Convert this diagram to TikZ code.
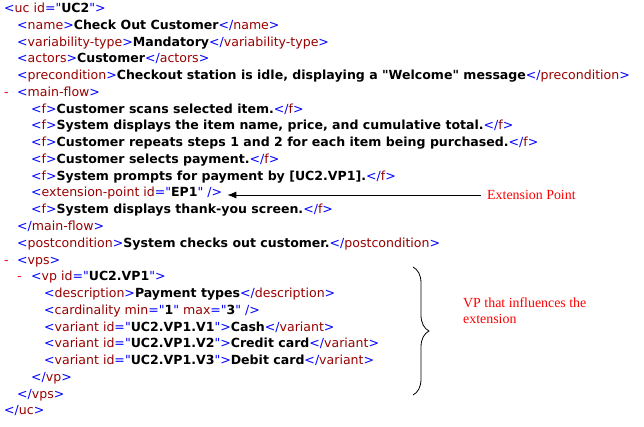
\documentclass[tikz,border=0pt]{standalone}
\usepackage{fontspec}
\newfontfamily\codefont{DejaVu Sans}
\newfontfamily\lblfont{Liberation Serif}
\usetikzlibrary{arrows.meta,decorations.pathreplacing}
\definecolor{xblue}{HTML}{0000FF}
\definecolor{xred}{HTML}{990000}
\definecolor{lblred}{HTML}{FF0000}
\newcommand\xo[1]{{\color{xblue}<}{\color{xred}#1}{\color{xblue}>}}
\newcommand\xs[1]{{\color{xblue}<}{\color{xred}#1}}
\newcommand\xg{{\color{xblue}>}}
\newcommand\xe{{\color{xblue}\ />}}
\newcommand\xc[1]{{\color{xblue}</}{\color{xred}#1}{\color{xblue}>}}
\newcommand\xa[2]{ {\color{xred}#1}{\color{xblue}="}\textbf{#2}{\color{xblue}"}}
\newcommand\xv[1]{\textbf{#1}}
\newcommand\xd{{\color{red}-}}
\begin{document}
\begin{tikzpicture}[x=1bp,y=-1bp,
  code/.style={anchor=base west,inner sep=0pt,font={\codefont\fontsize{12.55bp}{16bp}\selectfont}},
  lbl/.style={inner sep=0pt,text=lblred,font={\lblfont\fontsize{13.9bp}{16bp}\selectfont}},
  pointer/.style={draw=black,line width=0.8bp,-{Latex[length=9bp,width=7bp]}},
  bracestyle/.style={draw=black,line width=0.8bp,decorate,decoration={brace,amplitude=16bp}}]
\useasboundingbox[fill=white] (0,0) rectangle (644,426);
\def\r#1{12.5+#1*16.77}
\node[code] (l0)  at (4,{\r{0}}) {\xs{uc}\xa{id}{UC2}\xg};
\node[code] (l1)  at (17,{\r{1}}) {\xo{name}\xv{Check Out Customer}\xc{name}};
\node[code] (l2)  at (17,{\r{2}}) {\xo{variability-type}\xv{Mandatory}\xc{variability-type}};
\node[code] (l3)  at (17,{\r{3}}) {\xo{actors}\xv{Customer}\xc{actors}};
\node[code] (l4)  at (17,{\r{4}}) {\xo{precondition}\xv{Checkout station is idle, displaying a "Welcome" message}\xc{precondition}};
\node[code] (d5)  at (4,{\r{5}}) {\xd};
\node[code] (l5)  at (17,{\r{5}}) {\xo{main-flow}};
\node[code] (l6)  at (31,{\r{6}}) {\xo{f}\xv{Customer scans selected item.}\xc{f}};
\node[code] (l7)  at (31,{\r{7}}) {\xo{f}\xv{System displays the item name, price, and cumulative total.}\xc{f}};
\node[code] (l8)  at (31,{\r{8}}) {\xo{f}\xv{Customer repeats steps 1 and 2 for each item being purchased.}\xc{f}};
\node[code] (l9)  at (31,{\r{9}}) {\xo{f}\xv{Customer selects payment.}\xc{f}};
\node[code] (l10) at (31,{\r{10}}) {\xo{f}\xv{System prompts for payment by [UC2.VP1].}\xc{f}};
\node[code] (l11) at (31,{\r{11}}) {\xs{extension-point}\xa{id}{EP1}\xe};
\node[code] (l12) at (31,{\r{12}}) {\xo{f}\xv{System displays thank-you screen.}\xc{f}};
\node[code] (l13) at (17,{\r{13}}) {\xc{main-flow}};
\node[code] (l14) at (17,{\r{14}}) {\xo{postcondition}\xv{System checks out customer.}\xc{postcondition}};
\node[code] (d15) at (4,{\r{15}}) {\xd};
\node[code] (l15) at (17,{\r{15}}) {\xo{vps}};
\node[code] (d16) at (17,{\r{16}}) {\xd};
\node[code] (l16) at (31,{\r{16}}) {\xs{vp}\xa{id}{UC2.VP1}\xg};
\node[code] (l17) at (44,{\r{17}}) {\xo{description}\xv{Payment types}\xc{description}};
\node[code] (l18) at (44,{\r{18}}) {\xs{cardinality}\xa{min}{1}\xa{max}{3}\xe};
\node[code] (l19) at (44,{\r{19}}) {\xs{variant}\xa{id}{UC2.VP1.V1}\xg\xv{Cash}\xc{variant}};
\node[code] (l20) at (44,{\r{20}}) {\xs{variant}\xa{id}{UC2.VP1.V2}\xg\xv{Credit card}\xc{variant}};
\node[code] (l21) at (44,{\r{21}}) {\xs{variant}\xa{id}{UC2.VP1.V3}\xg\xv{Debit card}\xc{variant}};
\node[code] (l22) at (31,{\r{22}}) {\xc{vp}};
\node[code] (l23) at (17,{\r{23}}) {\xc{vps}};
\node[code] (l24) at (4,{\r{24}}) {\xc{uc}};
% extension point label and arrow
\node[lbl,anchor=west,inner xsep=6bp] (ep) at (481,195) {Extension Point};
\coordinate (tip) at ([xshift=5bp]l11.east);
\draw[pointer] (ep.west) -- (ep.west -| tip);
% brace and its label
\coordinate (bt) at (413,267);
\coordinate (bb) at (413,395);
\draw[bracestyle] (bt) -- (bb);
\node[lbl,anchor=base west,align=left] (vpl) at (463,323.3) {VP that influences the\\extension};
\end{tikzpicture}
\end{document}
